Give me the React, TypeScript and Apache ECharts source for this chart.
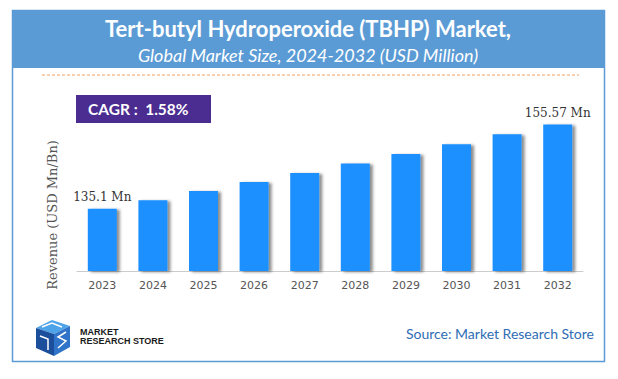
import React, { useEffect, useRef } from "react";
import * as echarts from "echarts";

const years = ["2023", "2024", "2025", "2026", "2027", "2028", "2029", "2030", "2031", "2032"];
const revenue = [135.1, 137.2, 139.4, 141.6, 143.8, 146.1, 148.4, 150.8, 153.2, 155.57];
const labelledYears = ["2023", "2032"];
const yMin = 120;
const yMax = 160;
const titleText = "Tert-butyl Hydroperoxide (TBHP) Market,";
const subtitleText = "Global Market Size, 2024-2032 (USD Million)";
const cagrText = "CAGR :  1.58%";
const yAxisName = "Revenue (USD Mn/Bn)";
const sourceText = "Source: Market Research Store";
const logoText = "MARKET\nRESEARCH STORE";

export default function App() {
  const ref = useRef<HTMLDivElement>(null);
  useEffect(() => {
    if (!ref.current) return;
    const chart = echarts.init(ref.current, undefined, { renderer: "svg" });
    const data = revenue.map((v, i) => ({
      value: v,
      label: {
        show: labelledYears.includes(years[i]),
        formatter: () => `${v} Mn`,
      },
    }));
    chart.setOption({
      animation: false,
      backgroundColor: "#ffffff",
      grid: { left: 77, right: 35, top: 106.3, bottom: 108, containLabel: false },
      xAxis: {
        type: "category",
        data: years,
        axisLine: { show: true, lineStyle: { color: "#cccccc", width: 1 } },
        axisTick: { show: false },
        axisLabel: { color: "#555555", fontFamily: "DejaVu Sans", fontSize: 11, margin: 9 },
      },
      yAxis: {
        type: "value",
        min: yMin,
        max: yMax,
        show: false,
        splitLine: { show: false },
      },
      series: [
        {
          type: "bar",
          data,
          barWidth: 29,
          itemStyle: {
            color: "#1E90FF",
            shadowColor: "rgba(0,0,0,0.45)",
            shadowBlur: 3,
            shadowOffsetX: 3,
            shadowOffsetY: 1,
          },
          label: {
            position: "top",
            distance: 6,
            color: "#333333",
            fontFamily: "DejaVu Serif",
            fontSize: 12,
          },
        },
      ],
      graphic: [
        {
          type: "rect",
          shape: { x: 12.5, y: 10.5, width: 592, height: 351 },
          style: { fill: "none", stroke: "#5B9BD5", lineWidth: 1.5 },
          z: 1,
        },
        {
          type: "rect",
          shape: { x: 12, y: 10, width: 593, height: 58 },
          style: { fill: "#5B9BD5" },
          z: 2,
        },
        {
          type: "text",
          x: 308,
          y: 28,
          style: {
            text: titleText,
            fill: "#ffffff",
            font: "bold 22px Lato",
            textAlign: "center",
            textVerticalAlign: "middle",
          },
          z: 3,
        },
        {
          type: "text",
          x: 308,
          y: 55,
          style: {
            text: subtitleText,
            fill: "#ffffff",
            font: "italic 18px Lato",
            textAlign: "center",
            textVerticalAlign: "middle",
          },
          z: 3,
        },
        {
          type: "line",
          shape: { x1: 42, y1: 75, x2: 579, y2: 75 },
          style: { stroke: "#F0A060", lineWidth: 1, lineDash: [3, 2] },
          z: 3,
        },
        {
          type: "rect",
          shape: { x: 76, y: 95, width: 135, height: 28 },
          style: { fill: "#4B2C91" },
          z: 3,
        },
        {
          type: "text",
          x: 88,
          y: 109,
          style: {
            text: cagrText,
            fill: "#ffffff",
            font: "bold 15.5px Lato",
            textAlign: "left",
            textVerticalAlign: "middle",
          },
          z: 4,
        },
        {
          type: "text",
          x: 52,
          y: 215,
          rotation: Math.PI / 2,
          style: {
            text: yAxisName,
            fill: "#555555",
            font: "13px DejaVu Serif",
            textAlign: "center",
            textVerticalAlign: "middle",
          },
          z: 3,
        },
        {
          type: "group",
          z: 3,
          children: [
            { type: "polygon", shape: { points: [[36, 328], [52, 320], [70, 326], [54, 334]] }, style: { fill: "#4FA3E8" } },
            { type: "polygon", shape: { points: [[36, 328], [54, 334], [54, 356], [36, 348]] }, style: { fill: "#1B4F9C" } },
            { type: "polygon", shape: { points: [[54, 334], [70, 326], [70, 347], [54, 356]] }, style: { fill: "#2F74C8" } },
            { type: "polyline", shape: { points: [[42, 327], [52, 323], [62, 327]] }, style: { stroke: "#ffffff", lineWidth: 1.5, fill: "none" } },
            { type: "polyline", shape: { points: [[40, 336], [48, 339], [48, 350]] }, style: { stroke: "#ffffff", lineWidth: 1.5, fill: "none" } },
            { type: "polyline", shape: { points: [[66, 332], [58, 337], [66, 341], [58, 348]] }, style: { stroke: "#ffffff", lineWidth: 1.5, fill: "none" } },
          ],
        },
        {
          type: "text",
          x: 80,
          y: 336,
          style: {
            text: logoText,
            fill: "#1a1a1a",
            font: "bold 9px 'Liberation Sans'",
            lineHeight: 9,
            textAlign: "left",
            textVerticalAlign: "middle",
          },
          z: 3,
        },
        {
          type: "text",
          x: 594,
          y: 333,
          style: {
            text: sourceText,
            fill: "#2E6DB4",
            font: "14px Lato",
            textAlign: "right",
            textVerticalAlign: "middle",
          },
          z: 3,
        },
      ],
    });
    return () => chart.dispose();
  }, []);
  return <div ref={ref} style={{ position: "fixed", left: 0, top: 0, width: 618, height: 379 }} />;
}
